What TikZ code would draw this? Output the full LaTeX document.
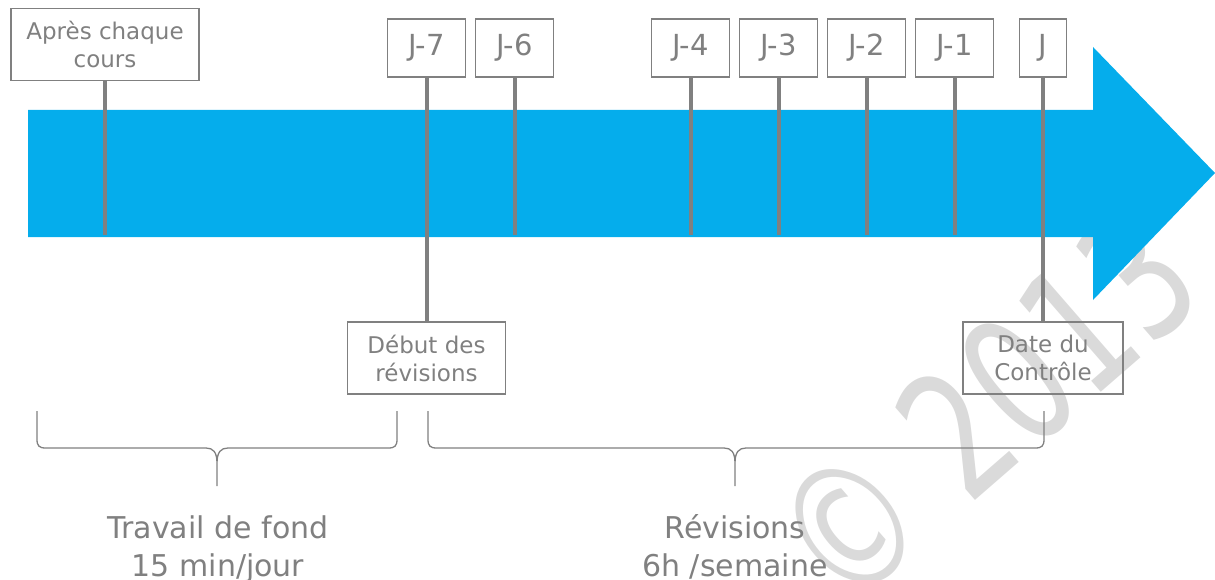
\documentclass[tikz,border=0pt]{standalone}
\usepackage{fontspec}
\setmainfont{DejaVu Sans}
\usetikzlibrary{positioning, calc}
\definecolor{fleche}{RGB}{5,173,236}
\definecolor{gristexte}{RGB}{128,128,128}
\definecolor{grismarque}{RGB}{218,218,218}
\tikzstyle{every jalon} = []
\tikzstyle{jalon} = [rectangle, draw=gristexte, line width=1.8pt, text=gristexte, align=center, inner sep=0pt, outer sep=0pt, every jalon]
\tikzstyle{jour} = [jalon, minimum width=78pt, minimum height=58pt, font=\fontsize{29}{34}\selectfont]
\tikzstyle{etape} = [jalon, minimum height=72pt, font=\fontsize{23}{28}\selectfont]
\tikzstyle{bilan} = [text=gristexte, align=center, inner sep=0pt, font=\fontsize{30}{38}\selectfont]
\tikzstyle{trait} = [draw=gristexte, line width=4pt]
\tikzstyle{accolade} = [draw=gristexte, line width=1.3pt]
\tikzstyle{marque} = [text=grismarque, inner sep=0pt, font=\fontsize{110}{110}\selectfont]
% accolade: left x, right x, middle x
\newcommand{\accolade}[3]{%
  \draw[accolade] (#1,411) -- (#1,439) .. controls (#1,446) and ({#1+2},448) .. ({#1+9},448)
    -- ({#3-11},448) .. controls ({#3-4},448) and (#3,452) .. (#3,463) -- (#3,486)
    (#3,463) .. controls (#3,452) and ({#3+4},448) .. ({#3+11},448)
    -- ({#2-9},448) .. controls ({#2-2},448) and (#2,446) .. (#2,439) -- (#2,411);}

\begin{document}
\begin{tikzpicture}[x=1pt, y=-1pt]
\useasboundingbox (0,0) rectangle (1215,580);

%Watermark
\node[marque, rotate=41, xscale=1.14, yscale=1.6] (filigrane) at (985,408) {© 2013};

%Arrow
\fill[fleche] (28,110) -- (1093,110) -- (1093,47) -- (1215,173) -- (1093,300) -- (1093,237) -- (28,237) -- cycle;
\coordinate (base) at (0,235);

%Nodes
\node[etape, minimum width=188pt] (apres) at (105,44.5) {Après chaque\\cours};
\node[jour] (j7) at (426.5,48) {J-7};
\node[jour, right=10pt of j7] (j6) {J-6};
\node[jour, right=98pt of j6] (j4) {J-4};
\node[jour, right=10pt of j4] (j3) {J-3};
\node[jour, right=10pt of j3] (j2) {J-2};
\node[jour, right=10pt of j2] (j1) {J-1};
\node[jour, minimum width=47pt, right=26pt of j1] (jj) {J};
\node[etape, minimum width=158pt, below=245pt of j7] (debut) {Début des\\révisions};
\node[etape, minimum width=160pt, below=245pt of jj] (controle) {Date du\\Contrôle};

%Lines
\draw[trait] (apres) -- (apres |- base);
\draw[trait] (j7) -- (debut);
\draw[trait] (j6) -- (j6 |- base);
\draw[trait] (j4) -- (j4 |- base);
\draw[trait] (j3) -- (j3 |- base);
\draw[trait] (j2) -- (j2 |- base);
\draw[trait] (j1) -- (j1 |- base);
\draw[trait] (jj) -- (controle);

%Braces
\accolade{37}{397}{217}
\accolade{428}{1044}{735}
\node[bilan, anchor=base] (fond) at (218,576) {Travail de fond\\15 min/jour};
\node[bilan, anchor=base] (revisions) at (735,576) {Révisions\\6h /semaine};
\end{tikzpicture}
\end{document}
